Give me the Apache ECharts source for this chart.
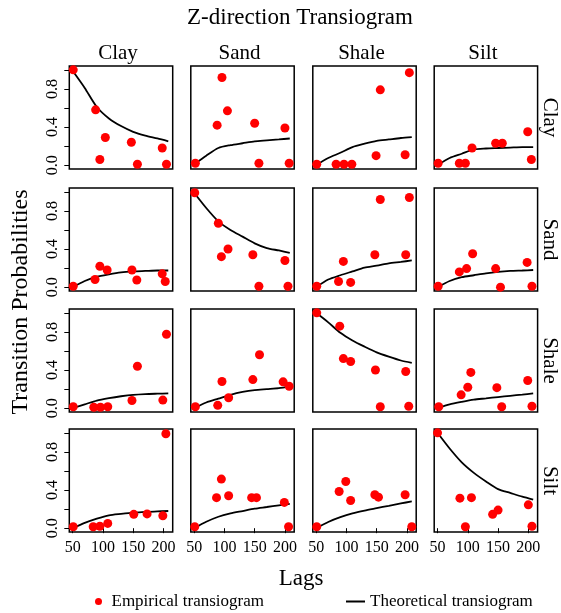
<!DOCTYPE html>
<html>
<head>
<meta charset="utf-8">
<script src="https://cdn.jsdelivr.net/npm/echarts@6/dist/echarts.min.js"></script>
<style>
  html, body { margin: 0; padding: 0; background: #fff; }
  #chart { width: 561px; height: 613px; }
</style>
</head>
<body>
<div id="chart"></div>
<script>
// Facies names (rows = from, columns = to)
const facies = ['Clay', 'Sand', 'Shale', 'Silt'];

// Axis ticks
const lagTicks = [50, 100, 150, 200];
const probTicks = [0, 0.2, 0.4, 0.6, 0.8, 1.0];
const probLabels = [0, 0.4, 0.8];

// Lags at which the fitted model curves are sampled
const modelLags = [50, 70, 90, 110, 130, 150, 170, 190, 208];

// Empirical transiogram points: [lag, transition probability]
const empClayClay   = [[51, 1.0], [88, 0.58], [95, 0.06], [104, 0.29], [147, 0.24], [157, 0.01], [198, 0.18], [205, 0.01]];
const empClaySand   = [[52, 0.02], [88, 0.42], [96, 0.92], [105, 0.57], [150, 0.44], [157, 0.02], [200, 0.39], [207, 0.02]];
const empClayShale  = [[51, 0.01], [83, 0.01], [96, 0.01], [109, 0.01], [149, 0.10], [156, 0.79], [197, 0.11], [204, 0.97]];
const empClaySilt   = [[51, 0.02], [86, 0.02], [96, 0.02], [107, 0.18], [146, 0.23], [157, 0.23], [199, 0.35], [205, 0.06]];

const empSandClay   = [[51, 0.01], [87, 0.08], [95, 0.22], [107, 0.18], [148, 0.18], [156, 0.075], [198, 0.14], [203, 0.06]];
const empSandSand   = [[51, 0.99], [90, 0.67], [95, 0.32], [106, 0.40], [147, 0.34], [157, 0.01], [200, 0.28], [205, 0.01]];
const empSandShale  = [[51, 0.01], [87, 0.06], [95, 0.27], [107, 0.05], [147, 0.34], [156, 0.92], [198, 0.34], [204, 0.94]];
const empSandSilt   = [[51, 0.01], [86, 0.16], [98, 0.195], [108, 0.35], [146, 0.195], [154, 0.0], [198, 0.26], [206, 0.01]];

const empShaleClay  = [[51, 0.015], [85, 0.01], [96, 0.01], [108, 0.015], [148, 0.08], [157, 0.44], [199, 0.085], [205, 0.775]];
const empShaleSand  = [[52, 0.015], [89, 0.03], [96, 0.28], [107, 0.11], [147, 0.30], [158, 0.56], [197, 0.276], [207, 0.23]];
const empShaleShale = [[51, 1.0], [89, 0.86], [95, 0.52], [107, 0.49], [148, 0.40], [156, 0.015], [198, 0.385], [203, 0.02]];
const empShaleSilt  = [[52, 0.015], [89, 0.14], [100, 0.22], [105, 0.375], [148, 0.215], [156, 0.015], [199, 0.29], [206, 0.02]];

const empSiltClay   = [[51, 0.015], [84, 0.015], [95, 0.02], [108, 0.05], [151, 0.145], [173, 0.15], [199, 0.13], [204, 0.99]];
const empSiltSand   = [[51, 0.015], [87, 0.32], [95, 0.515], [107, 0.34], [145, 0.32], [153, 0.32], [199, 0.27], [206, 0.015]];
const empSiltShale  = [[51, 0.015], [88, 0.385], [99, 0.49], [107, 0.29], [147, 0.35], [153, 0.325], [197, 0.35], [208, 0.015]];
const empSiltSilt   = [[50, 1.0], [87, 0.315], [96, 0.015], [106, 0.32], [141, 0.145], [150, 0.19], [200, 0.245], [206, 0.02]];

// Theoretical (fitted) transiograms at modelLags
const modClayClay   = [0.99, 0.81, 0.61, 0.49, 0.41, 0.35, 0.31, 0.28, 0.25];
const modClaySand   = [0.01, 0.10, 0.18, 0.21, 0.23, 0.25, 0.26, 0.27, 0.28];
const modClayShale  = [0.0, 0.075, 0.13, 0.19, 0.225, 0.255, 0.27, 0.285, 0.295];
const modClaySilt   = [0.0, 0.075, 0.12, 0.165, 0.175, 0.18, 0.185, 0.19, 0.19];

const modSandClay   = [0.0, 0.065, 0.11, 0.135, 0.155, 0.165, 0.17, 0.175, 0.175];
const modSandSand   = [0.99, 0.83, 0.69, 0.60, 0.53, 0.46, 0.41, 0.385, 0.36];
const modSandShale  = [0.0, 0.08, 0.125, 0.165, 0.205, 0.225, 0.25, 0.265, 0.28];
const modSandSilt   = [0.0, 0.065, 0.105, 0.125, 0.145, 0.16, 0.17, 0.175, 0.18];

const modShaleClay  = [0.0, 0.04, 0.08, 0.105, 0.125, 0.14, 0.148, 0.152, 0.155];
const modShaleSand  = [0.0, 0.06, 0.10, 0.14, 0.17, 0.19, 0.20, 0.21, 0.225];
const modShaleShale = [1.0, 0.90, 0.79, 0.71, 0.645, 0.585, 0.54, 0.50, 0.475];
const modShaleSilt  = [0.0, 0.04, 0.067, 0.09, 0.103, 0.117, 0.13, 0.142, 0.155];

const modSiltClay   = [0.0, 0.055, 0.10, 0.135, 0.15, 0.163, 0.17, 0.177, 0.18];
const modSiltSand   = [0.0, 0.067, 0.12, 0.155, 0.18, 0.205, 0.222, 0.24, 0.255];
const modSiltShale  = [0.0, 0.065, 0.115, 0.155, 0.185, 0.21, 0.235, 0.26, 0.28];
const modSiltSilt   = [1.0, 0.835, 0.69, 0.58, 0.49, 0.41, 0.37, 0.33, 0.30];

const empirical = [
  [empClayClay, empClaySand, empClayShale, empClaySilt],
  [empSandClay, empSandSand, empSandShale, empSandSilt],
  [empShaleClay, empShaleSand, empShaleShale, empShaleSilt],
  [empSiltClay, empSiltSand, empSiltShale, empSiltSilt]
];
const models = [
  [modClayClay, modClaySand, modClayShale, modClaySilt],
  [modSandClay, modSandSand, modSandShale, modSandSilt],
  [modShaleClay, modShaleSand, modShaleShale, modShaleSilt],
  [modSiltClay, modSiltSand, modSiltShale, modSiltSilt]
];

// Panel layout
const colLeft = [69.3, 190.8, 312.8, 434.2];
const rowTop = [66, 188, 309, 429];
const panelW = 103.4;
const panelH = 103;
const serif = 'Liberation Serif';

const grids = [], xAxes = [], yAxes = [], series = [];
for (let r = 0; r < 4; r++) {
  for (let c = 0; c < 4; c++) {
    const i = r * 4 + c;
    const bottomRow = r === 3;
    const leftCol = c === 0;
    grids.push({
      left: colLeft[c], top: rowTop[r], width: panelW, height: panelH,
      show: true, borderColor: '#000', borderWidth: 1.5, backgroundColor: 'transparent'
    });
    xAxes.push({
      type: 'value', gridIndex: i, min: 44.5, max: 215.3,
      axisLine: { show: false },
      splitLine: { show: false },
      axisTick: { show: bottomRow, customValues: lagTicks, length: 5, lineStyle: { color: '#000', width: 1 } },
      axisLabel: { show: bottomRow, customValues: lagTicks, color: '#000', fontFamily: serif, fontSize: 16, margin: 8 }
    });
    yAxes.push({
      type: 'value', gridIndex: i, min: -0.04, max: 1.04,
      axisLine: { show: false },
      splitLine: { show: false },
      axisTick: { show: leftCol, customValues: probTicks, length: 5, lineStyle: { color: '#000', width: 1 } },
      axisLabel: {
        show: leftCol, customValues: probLabels, rotate: 90, color: '#000',
        fontFamily: serif, fontSize: 16, margin: 9,
        formatter: v => Number(v).toFixed(1)
      }
    });
    series.push({
      name: 'Theoretical transiogram', type: 'line', xAxisIndex: i, yAxisIndex: i,
      data: modelLags.map((lag, k) => [lag, models[r][c][k]]),
      showSymbol: false, smooth: 0.25, z: 2,
      lineStyle: { color: '#000', width: 1.8 }, itemStyle: { color: '#000' }
    });
    series.push({
      name: 'Empirical transiogram', type: 'scatter', xAxisIndex: i, yAxisIndex: i,
      data: empirical[r][c], symbolSize: 9, z: 3,
      itemStyle: { color: '#ff0000', opacity: 1 }
    });
  }
}

const graphics = [
  { type: 'text', x: 300, y: 18, style: { text: 'Z-direction Transiogram', font: '23px "Liberation Serif"', fill: '#000', align: 'center', verticalAlign: 'middle' } },
  { type: 'text', x: 301, y: 579, style: { text: 'Lags', font: '23px "Liberation Serif"', fill: '#000', align: 'center', verticalAlign: 'middle' } },
  { type: 'text', x: 21, y: 302, rotation: Math.PI / 2, style: { text: 'Transition Probabilities', font: '24px "Liberation Serif"', fill: '#000', align: 'center', verticalAlign: 'middle' } }
];
facies.forEach((name, k) => {
  graphics.push({ type: 'text', x: colLeft[k] + panelW / 2 - 3, y: 53, style: { text: name, font: '21px "Liberation Serif"', fill: '#000', align: 'center', verticalAlign: 'middle' } });
  graphics.push({ type: 'text', x: 550, y: rowTop[k] + panelH / 2, rotation: -Math.PI / 2, style: { text: name, font: '21px "Liberation Serif"', fill: '#000', align: 'center', verticalAlign: 'middle' } });
});

const chart = echarts.init(document.getElementById('chart'), null, { renderer: 'canvas' });
chart.setOption({
  animation: false,
  backgroundColor: '#fff',
  grid: grids,
  xAxis: xAxes,
  yAxis: yAxes,
  series: series,
  legend: [
    {
      data: ['Empirical transiogram'], left: 95, top: 593, padding: 0,
      icon: 'circle', itemWidth: 16, itemHeight: 7,
      textStyle: { fontFamily: serif, fontSize: 17, color: '#000' }
    },
    {
      data: ['Theoretical transiogram'], left: 346, top: 593, padding: 0,
      icon: 'rect', itemWidth: 19, itemHeight: 2,
      textStyle: { fontFamily: serif, fontSize: 17, color: '#000' }
    }
  ],
  graphic: graphics
});
</script>
</body>
</html>
